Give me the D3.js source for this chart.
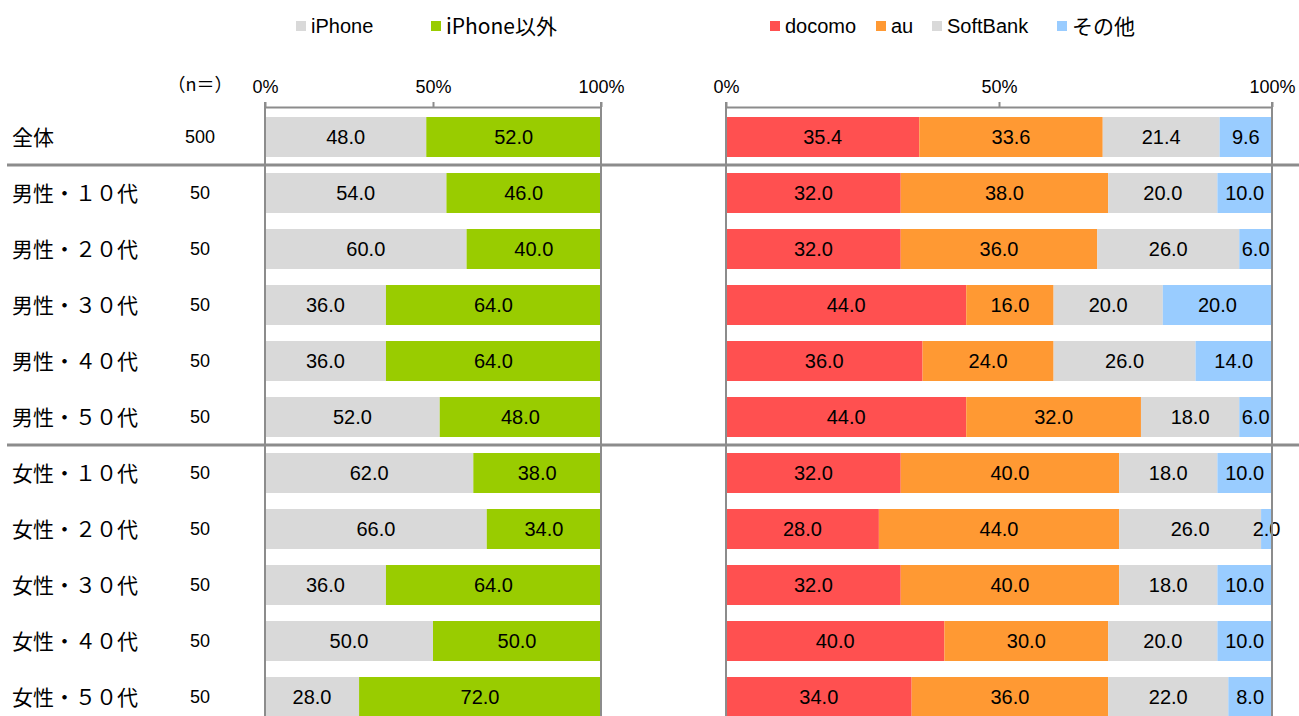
<!DOCTYPE html>
<html><head><meta charset="utf-8">
<script src="https://cdn.jsdelivr.net/npm/d3@7"></script>
<style>body{margin:0;background:#fff}svg{display:block}</style>
</head><body>
<svg id="c" width="1299" height="716"></svg>
<script>
const categories = ["全体","男性・１０代","男性・２０代","男性・３０代","男性・４０代","男性・５０代","女性・１０代","女性・２０代","女性・３０代","女性・４０代","女性・５０代"];
const nValues = [500,50,50,50,50,50,50,50,50,50,50];
const iphone = [48.0,54.0,60.0,36.0,36.0,52.0,62.0,66.0,36.0,50.0,28.0];
const nonIphone = [52.0,46.0,40.0,64.0,64.0,48.0,38.0,34.0,64.0,50.0,72.0];
const docomo = [35.4,32.0,32.0,44.0,36.0,44.0,32.0,28.0,32.0,40.0,34.0];
const au = [33.6,38.0,36.0,16.0,24.0,32.0,40.0,44.0,40.0,30.0,36.0];
const softbank = [21.4,20.0,26.0,20.0,26.0,18.0,18.0,26.0,18.0,20.0,22.0];
const other = [9.6,10.0,6.0,20.0,14.0,6.0,10.0,2.0,10.0,10.0,8.0];
const tickValues = [0,50,100];
const leftSeries = [{name:"iPhone",values:iphone,color:"#d9d9d9"},{name:"iPhone以外",values:nonIphone,color:"#99cc00"}];
const rightSeries = [{name:"docomo",values:docomo,color:"#ff5050"},{name:"au",values:au,color:"#ff9933"},{name:"SoftBank",values:softbank,color:"#d9d9d9"},{name:"その他",values:other,color:"#99ccff"}];

const svg = d3.select("#c");
const numFont = "'Liberation Sans', Arial, sans-serif";
const jpFont = "'Noto Sans CJK JP', sans-serif";
const gridColor = "#8c8c8c";

const y = d3.scaleBand().domain(categories).range([109, 725]).paddingInner(0.286).paddingOuter(0.143);

function panel(series, x0, x1) {
  const x = d3.scaleLinear().domain([0,100]).range([x0, x1]);
  const g = svg.append("g");
  series.forEach((s, si) => {
    categories.forEach((c, i) => {
      let start = 0;
      for (let k = 0; k < si; k++) start += series[k].values[i];
      const v = s.values[i];
      g.append("rect").attr("x", x(start)).attr("y", y(c))
        .attr("width", x(start + v) - x(start)).attr("height", y.bandwidth())
        .attr("fill", s.color);
      g.append("text").attr("x", (x(start) + x(start + v)) / 2).attr("y", y(c) + y.bandwidth()/2)
        .attr("dy", "0.36em").attr("text-anchor", "middle")
        .attr("font-family", numFont).attr("font-size", 20).attr("fill", "#000")
        .attr("textLength", null)
        .text(v.toFixed(1));
    });
  });
  const axis = d3.axisTop(x).tickValues(tickValues).tickFormat(d => d + "%").tickSize(5).tickSizeOuter(0);
  const ag = svg.append("g").attr("transform", "translate(0,107)").call(axis);
  ag.select(".domain").attr("stroke", gridColor).attr("stroke-width", 2);
  ag.selectAll(".tick line").attr("stroke", gridColor).attr("stroke-width", 2);
  ag.selectAll(".tick text").attr("font-family", numFont).attr("font-size", 18).attr("fill", "#000").attr("y", -14);
  [0, 100].forEach(v => {
    svg.append("line").attr("x1", x(v)).attr("x2", x(v)).attr("y1", 102).attr("y2", 716)
      .attr("stroke", gridColor).attr("stroke-width", 2);
  });
  return x;
}
panel(leftSeries, 265, 601);
panel(rightSeries, 726, 1272);

[1, 6].forEach(i => {
  const yy = (y(categories[i-1]) + y.bandwidth() + y(categories[i])) / 2;
  svg.append("line").attr("x1", 7).attr("x2", 1299).attr("y1", yy).attr("y2", yy)
    .attr("stroke", gridColor).attr("stroke-width", 3);
});

categories.forEach((c, i) => {
  const cy = y(c) + y.bandwidth()/2;
  svg.append("text").attr("x", 12).attr("y", cy).attr("dy", "0.36em")
    .attr("font-family", jpFont).attr("font-size", 21).attr("fill", "#000").text(c);
  svg.append("text").attr("x", 200).attr("y", cy).attr("dy", "0.36em").attr("text-anchor", "middle")
    .attr("font-family", numFont).attr("font-size", 18).attr("fill", "#000").text(nValues[i]);
});
svg.append("text").attr("x", 200).attr("y", 91).attr("text-anchor", "middle")
  .attr("font-family", jpFont).attr("font-size", 18).attr("fill", "#000").text("（n＝）");

function legend(series, xs) {
  series.forEach((s, i) => {
    svg.append("rect").attr("x", xs[i]).attr("y", 21).attr("width", 10).attr("height", 10).attr("fill", s.color);
    svg.append("text").attr("x", xs[i] + 15).attr("y", 26).attr("dy", "0.36em")
      .attr("font-family", /[^\x00-\x7F]/.test(s.name) ? jpFont : numFont)
      .attr("font-size", /[^\x00-\x7F]/.test(s.name) ? 21 : 20).attr("fill", "#000").text(s.name);
  });
}
legend(leftSeries, [296, 431]);
legend(rightSeries, [770, 876, 932, 1057]);
</script>
</body></html>
